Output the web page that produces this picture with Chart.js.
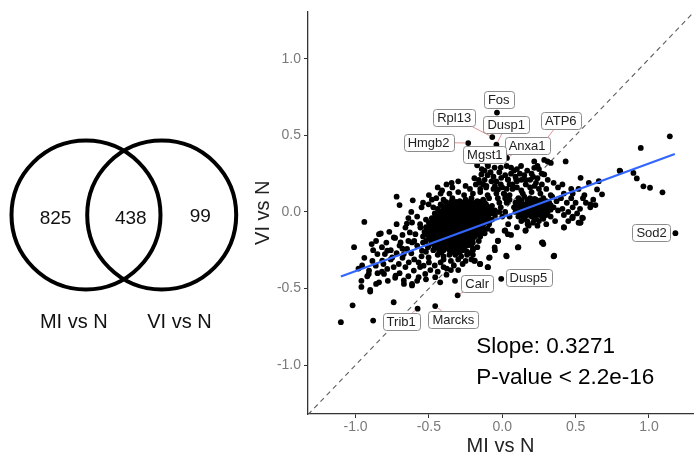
<!DOCTYPE html>
<html><head><meta charset="utf-8">
<script src="https://cdn.jsdelivr.net/npm/chart.js@4.4.1/dist/chart.umd.min.js"></script>
<style>
html,body{margin:0;padding:0;background:#fff;width:697px;height:460px;overflow:hidden;}
#venn{position:absolute;left:0;top:0;}
#scatter{position:absolute;left:240px;top:0;}
</style></head><body>
<canvas id="venn" width="240" height="460"></canvas>
<canvas id="scatter" width="457" height="460"></canvas>
<script>
// ---------- DATA ----------
const vennSets = ['MI vs N', 'VI vs N'];
const vennCounts = [825, 438, 99]; // MI only, shared, VI only

const xTicks = [-1.0, -0.5, 0.0, 0.5, 1.0];
const yTicks = [-1.0, -0.5, 0.0, 0.5, 1.0];
const xTitle = 'MI vs N';
const yTitle = 'VI vs N';

// genes: [MI vs N, VI vs N] (log fold changes)
const genePoints = [
// sparse / outlying
[-1.10,-0.72],[-1.02,-0.61],[-0.88,-0.71],[-0.74,-0.59],[-0.577,-0.632],[-0.457,-0.615],[-0.304,-0.545],[-0.007,-0.437],
[-0.96,-0.45],[-0.90,-0.52],[-0.86,-0.47],[-0.92,-0.42],[-0.955,-0.35],[-1.01,-0.23],[-0.94,-0.065],[-0.72,0.10],[-0.70,0.045],[-0.61,0.076],[-0.55,0.03],[-0.50,0.11],[-0.42,0.12],[-0.345,0.19],
[-0.89,-0.21],[-0.84,-0.145],[-0.77,-0.13],[-0.73,-0.17],[-0.91,-0.405],[-0.81,-0.34],[-0.80,-0.275],[-0.76,-0.25],[-0.73,-0.43],[-0.67,-0.47],[-0.615,-0.48],[-0.65,-0.076],[-0.63,-0.134],[-0.60,-0.19],[-0.56,-0.08],[-0.525,-0.145],[-0.507,-0.23],[-0.68,-0.24],[-0.705,-0.34],[-0.56,-0.36],[-0.525,-0.405],[-0.457,-0.426],[-0.423,-0.46],[-0.378,-0.37],[-0.322,-0.45],[-0.806,-0.405],[-0.85,-0.40],[-0.885,-0.32],
[-0.502,0.05],[-0.828,-0.141],[-0.96,-0.49],[-0.84,-0.46],[-0.90,-0.51],
[-0.739,-0.167],[-0.693,-0.199],[-0.649,-0.242],[-0.615,-0.199],[-0.592,-0.145],[-0.784,-0.253],[-0.75,-0.297],[-0.671,-0.275],[-0.637,-0.329],[-0.603,-0.383],[-0.57,-0.426],[-0.536,-0.351],[-0.502,-0.297],[-0.547,-0.253],[-0.818,-0.318],[-0.851,-0.275],[-0.727,-0.416],[-0.671,-0.448],[-0.615,-0.47],[-0.784,-0.372],[-0.862,-0.351],[-0.908,-0.383],[-0.66,-0.102],[-0.615,-0.069],[-0.558,-0.102],[-0.514,-0.145],[-0.48,-0.188],
[-0.88,-0.25],[-0.86,-0.19],[-0.82,-0.23],[-0.79,-0.20],[-0.76,-0.31],[-0.72,-0.27],[-0.70,-0.22],[-0.68,-0.30],[-0.66,-0.36],[-0.64,-0.19],[-0.62,-0.27],[-0.60,-0.31],[-0.58,-0.22],[-0.57,-0.33],[-0.55,-0.29],[-0.54,-0.20],[-0.52,-0.26],[-0.50,-0.33],[-0.49,-0.38],[-0.46,-0.35],[-0.44,-0.39],[-0.42,-0.33],[-0.40,-0.36],[-0.38,-0.41],[-0.35,-0.38],[-0.33,-0.35],[-0.30,-0.38],[-0.27,-0.34],[-0.74,-0.36],[-0.70,-0.40],[-0.64,-0.42],[-0.58,-0.45],[-0.52,-0.44],[-0.78,-0.45],[-0.82,-0.39],[-0.94,-0.30],[-0.98,-0.37],
[-0.62,0.00],[-0.58,-0.03],[-0.54,0.06],[-0.48,0.08],[-0.44,0.16],[-0.52,-0.05],[-0.64,-0.04],[-0.68,-0.15],[-0.72,-0.08],
// labelled top genes
[-0.036,0.649],[-0.068,0.489],[-0.04,0.44],[-0.232,0.45],[0.032,0.353],[-0.171,0.305],[0.24,0.40],
// upper band
[-0.097,0.30],[-0.052,0.29],[0.128,0.30],[0.218,0.33],[0.286,0.34],[0.309,0.33],[0.331,0.32],[0.432,0.33],
[-0.142,0.245],[0.038,0.212],[-0.007,0.223],[0.095,0.212],[0.218,0.288],[0.286,0.245],
[-0.153,0.19],[-0.108,0.17],[-0.074,0.20],[-0.029,0.147],[0.016,0.115],[0.038,0.071],
[-0.12,0.27],[-0.02,0.26],[0.08,0.27],[0.17,0.27],[0.25,0.28],[0.80,0.27],
[-0.10,0.24],[-0.06,0.23],[0.02,0.24],[0.06,0.25],[0.15,0.24],[0.21,0.23],[0.27,0.25],
[-0.16,0.21],[-0.12,0.21],[-0.04,0.20],[0.04,0.21],[0.10,0.20],[0.19,0.21],[0.24,0.22],[0.31,0.21],
[-0.18,0.18],[-0.13,0.18],[-0.05,0.17],[-0.01,0.18],[0.07,0.18],[0.16,0.18],[0.22,0.17],[0.27,0.18],[0.35,0.19],[0.41,0.18],
[-0.22,0.15],[-0.15,0.15],[-0.11,0.16],[-0.06,0.15],[0.03,0.15],[0.13,0.14],[0.25,0.15],[0.30,0.15],[0.38,0.16],[0.47,0.15],[0.52,0.15],
[-0.04,0.12],[0.01,0.12],[0.05,0.11],[0.42,0.12],[0.48,0.12],[0.56,0.11],
[-0.03,0.09],[0.02,0.09],[0.05,0.08],[0.47,0.09],[0.55,0.09],[0.62,0.08],
[-0.02,0.06],[0.03,0.06],[0.50,0.06],[0.57,0.06],
[-0.01,0.03],[0.48,0.03],[0.53,0.02],[0.60,0.03],
[-0.02,0.00],[0.02,0.00],[0.51,-0.01],
[0.00,-0.03],[0.05,-0.03],[0.48,-0.03],[0.55,-0.04],
[0.45,-0.06],[0.52,-0.07],
[-0.01,0.29],[0.03,0.30],[0.06,0.29],[0.10,0.28],[0.12,0.25],[0.09,0.23],[0.13,0.21],[0.16,0.21],[0.07,0.15],[0.10,0.16],[0.05,0.18],[0.00,0.16],[-0.08,0.26],[-0.14,0.28],[-0.10,0.31],[0.19,0.16],[0.23,0.19],[0.20,0.25],[0.24,0.30],
// lower middle
[0.02,-0.12],[0.06,-0.15],[-0.03,-0.19],[0.10,-0.10],[0.04,-0.08],[-0.05,-0.25],[0.03,-0.29],[-0.09,-0.30],[-0.10,-0.36],[-0.15,-0.34],[-0.19,-0.32],[0.11,-0.23],[0.27,-0.20],[0.28,-0.21],[0.16,-0.12],[0.35,-0.29],[0.42,-0.10],[0.53,-0.07],[0.48,-0.04],
[0.016,-0.123],[0.038,-0.145],[-0.029,-0.188],[0.027,-0.286],[-0.052,-0.232],[-0.086,-0.297],[-0.097,-0.361],[-0.153,-0.34],[-0.187,-0.318],[-0.07,-0.123],
// right side
[1.142,0.494],[0.944,0.418],[0.804,0.266],[0.894,0.255],[0.917,0.219],[0.962,0.167],[1.007,0.158],[1.092,0.128],[1.18,-0.139],[0.534,0.223],[0.59,0.19],[0.658,0.201],[0.646,0.147],[0.68,0.115],[0.601,0.05],[0.635,0.045],[0.545,-0.037],[0.534,-0.069],[0.477,-0.037],[0.421,-0.102],[0.354,-0.286],[0.275,-0.199],[0.106,-0.232],[0.158,-0.123],[0.173,-0.08],
// right cluster
[0.14,0.12],[0.20,0.13],[0.26,0.12],[0.33,0.11],
[0.11,0.09],[0.15,0.10],[0.19,0.09],[0.23,0.08],[0.28,0.09],[0.34,0.10],[0.40,0.09],
[0.09,0.06],[0.12,0.06],[0.15,0.05],[0.18,0.06],[0.21,0.07],[0.24,0.06],[0.28,0.05],[0.32,0.06],[0.37,0.07],[0.44,0.06],
[0.08,0.03],[0.11,0.03],[0.14,0.02],[0.17,0.03],[0.20,0.04],[0.23,0.03],[0.26,0.02],[0.30,0.03],[0.35,0.03],[0.41,0.02],
[0.09,0.00],[0.12,0.00],[0.15,-0.01],[0.18,0.00],[0.21,0.01],[0.24,0.00],[0.27,-0.01],[0.31,0.00],[0.38,0.01],[0.45,0.00],
[0.11,-0.03],[0.14,-0.03],[0.17,-0.02],[0.20,-0.03],[0.23,-0.04],[0.27,-0.03],[0.33,-0.03],[0.42,-0.02],
[0.13,-0.06],[0.17,-0.06],[0.21,-0.07],[0.25,-0.06],[0.36,-0.06],
[0.18,-0.09],[0.24,-0.09],[0.30,-0.08],
[0.13,0.075],[0.17,0.08],[0.22,0.085],[0.26,0.075],[0.30,0.07],
[0.10,0.045],[0.16,0.04],[0.22,0.045],[0.27,0.04],[0.33,0.045],
[0.10,0.015],[0.16,0.015],[0.22,0.02],[0.28,0.015],[0.33,0.015],
[0.13,-0.015],[0.19,-0.015],[0.25,-0.015],[0.30,-0.02],
[0.15,-0.045],[0.22,-0.05],[0.28,-0.045],
[0.13,0.045],[0.19,0.045],[0.245,0.045],[0.30,0.045],
[0.13,0.015],[0.19,0.015],[0.25,0.015],[0.305,0.015],
[0.16,-0.015],[0.22,-0.015],[0.275,-0.015],
// main cluster
[-0.30,0.20],[-0.25,0.17],[-0.34,0.16],[-0.19,0.22],[-0.41,0.14],[-0.45,0.09],[-0.47,0.03],[-0.38,0.18],
[-0.36,0.12],[-0.30,0.13],[-0.26,0.11],[-0.20,0.12],[-0.15,0.13],[-0.10,0.11],
[-0.40,0.08],[-0.34,0.09],[-0.29,0.07],[-0.25,0.08],[-0.21,0.09],[-0.17,0.07],[-0.13,0.08],[-0.09,0.09],
[-0.42,0.05],[-0.37,0.04],[-0.33,0.05],[-0.29,0.04],[-0.26,0.05],[-0.23,0.04],[-0.20,0.05],[-0.17,0.04],[-0.14,0.05],[-0.11,0.05],[-0.07,0.04],
[-0.44,0.02],[-0.40,0.01],[-0.36,0.02],[-0.32,0.02],[-0.29,0.01],[-0.26,0.02],[-0.23,0.01],[-0.20,0.02],[-0.17,0.01],[-0.14,0.02],[-0.11,0.01],[-0.08,0.02],[-0.05,0.01],
[-0.46,-0.01],[-0.42,-0.02],[-0.38,-0.01],[-0.35,-0.01],[-0.32,-0.02],[-0.29,-0.01],[-0.26,-0.02],[-0.23,-0.01],[-0.20,-0.02],[-0.17,-0.01],[-0.14,-0.02],[-0.11,-0.01],[-0.08,-0.01],[-0.05,-0.02],
[-0.48,-0.04],[-0.44,-0.05],[-0.40,-0.04],[-0.37,-0.04],[-0.34,-0.05],[-0.31,-0.04],[-0.28,-0.04],[-0.25,-0.05],[-0.22,-0.04],[-0.19,-0.04],[-0.16,-0.05],[-0.13,-0.04],[-0.10,-0.04],[-0.07,-0.05],
[-0.50,-0.07],[-0.46,-0.08],[-0.42,-0.07],[-0.39,-0.07],[-0.36,-0.08],[-0.33,-0.07],[-0.30,-0.07],[-0.27,-0.08],[-0.24,-0.07],[-0.21,-0.07],[-0.18,-0.08],[-0.15,-0.07],[-0.12,-0.07],[-0.09,-0.08],
[-0.52,-0.10],[-0.48,-0.11],[-0.44,-0.10],[-0.41,-0.10],[-0.38,-0.11],[-0.35,-0.10],[-0.32,-0.10],[-0.29,-0.11],[-0.26,-0.10],[-0.23,-0.10],[-0.20,-0.11],[-0.17,-0.10],[-0.14,-0.10],[-0.10,-0.11],
[-0.53,-0.13],[-0.49,-0.14],[-0.45,-0.13],[-0.42,-0.13],[-0.39,-0.14],[-0.36,-0.13],[-0.33,-0.13],[-0.30,-0.14],[-0.27,-0.13],[-0.24,-0.13],[-0.21,-0.14],[-0.18,-0.13],[-0.15,-0.13],[-0.12,-0.14],
[-0.54,-0.16],[-0.50,-0.17],[-0.46,-0.16],[-0.43,-0.16],[-0.40,-0.17],[-0.37,-0.16],[-0.34,-0.16],[-0.31,-0.17],[-0.28,-0.16],[-0.25,-0.16],[-0.22,-0.17],[-0.19,-0.16],[-0.15,-0.16],
[-0.52,-0.19],[-0.48,-0.20],[-0.44,-0.19],[-0.41,-0.19],[-0.38,-0.20],[-0.35,-0.19],[-0.32,-0.19],[-0.29,-0.20],[-0.26,-0.19],[-0.23,-0.19],[-0.20,-0.20],[-0.16,-0.19],
[-0.50,-0.22],[-0.46,-0.23],[-0.42,-0.22],[-0.39,-0.22],[-0.36,-0.23],[-0.33,-0.22],[-0.30,-0.22],[-0.27,-0.23],[-0.24,-0.22],[-0.21,-0.22],[-0.17,-0.23],
[-0.47,-0.25],[-0.43,-0.26],[-0.40,-0.25],[-0.36,-0.25],[-0.33,-0.26],[-0.30,-0.25],[-0.27,-0.25],[-0.24,-0.26],[-0.20,-0.25],
[-0.44,-0.28],[-0.40,-0.29],[-0.36,-0.28],[-0.32,-0.28],[-0.28,-0.29],[-0.24,-0.28],[-0.20,-0.28],
[-0.40,-0.31],[-0.35,-0.32],[-0.30,-0.31],[-0.25,-0.32],[-0.21,-0.31],
[-0.385,0.065],[-0.315,0.065],[-0.275,0.06],[-0.235,0.065],[-0.185,0.06],[-0.155,0.065],[-0.12,0.06],
[-0.405,0.035],[-0.345,0.035],[-0.305,0.03],[-0.245,0.035],[-0.185,0.03],[-0.125,0.035],[-0.09,0.03],
[-0.43,0.005],[-0.37,0.005],[-0.305,0.005],[-0.245,0.005],[-0.185,0.005],[-0.125,0.005],[-0.065,0.005],
[-0.455,-0.025],[-0.395,-0.025],[-0.335,-0.025],[-0.275,-0.025],[-0.215,-0.025],[-0.155,-0.025],[-0.095,-0.025],
[-0.47,-0.055],[-0.41,-0.055],[-0.35,-0.055],[-0.29,-0.055],[-0.23,-0.055],[-0.17,-0.055],[-0.11,-0.055],
[-0.49,-0.085],[-0.43,-0.085],[-0.37,-0.085],[-0.31,-0.085],[-0.25,-0.085],[-0.19,-0.085],[-0.13,-0.085],
[-0.50,-0.115],[-0.44,-0.115],[-0.38,-0.115],[-0.32,-0.115],[-0.26,-0.115],[-0.20,-0.115],[-0.13,-0.115],
[-0.51,-0.145],[-0.45,-0.145],[-0.39,-0.145],[-0.33,-0.145],[-0.27,-0.145],[-0.21,-0.145],[-0.16,-0.145],
[-0.49,-0.175],[-0.43,-0.175],[-0.37,-0.175],[-0.31,-0.175],[-0.25,-0.175],[-0.20,-0.175],
[-0.47,-0.205],[-0.41,-0.205],[-0.35,-0.205],[-0.29,-0.205],[-0.23,-0.205],
[-0.44,-0.235],[-0.38,-0.235],[-0.32,-0.235],[-0.26,-0.235],[-0.20,-0.24],
[-0.415,-0.265],[-0.35,-0.265],[-0.29,-0.265],[-0.23,-0.27],
[-0.35,0.065],[-0.215,0.065],
[-0.375,0.035],[-0.275,0.035],[-0.215,0.035],[-0.155,0.035],
[-0.40,0.005],[-0.335,0.005],[-0.275,0.005],[-0.215,0.005],[-0.155,0.005],[-0.095,0.005],
[-0.425,-0.025],[-0.365,-0.025],[-0.305,-0.025],[-0.245,-0.025],[-0.185,-0.025],[-0.125,-0.025],
[-0.44,-0.055],[-0.38,-0.055],[-0.32,-0.055],[-0.26,-0.055],[-0.20,-0.055],[-0.14,-0.055],[-0.085,-0.055],
[-0.46,-0.085],[-0.40,-0.085],[-0.34,-0.085],[-0.28,-0.085],[-0.22,-0.085],[-0.16,-0.085],
[-0.47,-0.115],[-0.41,-0.115],[-0.35,-0.115],[-0.29,-0.115],[-0.23,-0.115],[-0.165,-0.115],
[-0.48,-0.145],[-0.42,-0.145],[-0.36,-0.145],[-0.30,-0.145],[-0.24,-0.145],[-0.185,-0.145],
[-0.46,-0.175],[-0.40,-0.175],[-0.34,-0.175],[-0.28,-0.175],[-0.225,-0.175],
[-0.44,-0.205],[-0.38,-0.205],[-0.32,-0.205],[-0.26,-0.205],
[-0.41,-0.235],[-0.35,-0.235],[-0.29,-0.235]
];

// labelled genes: name, point (MI, VI), label centre (MI, VI)
const labelGenes = ['Fos','Rpl13','Dusp1','ATP6','Hmgb2','Anxa1','Mgst1','Sod2','Dusp5','Calr','Marcks','Trib1'];
const labelPointMI = [-0.036,-0.068,-0.04, 0.24,-0.232,0.032,-0.171,1.18,-0.007,-0.304,-0.457,-0.577];
const labelPointVI = [ 0.649, 0.489, 0.44, 0.40, 0.45, 0.353, 0.305,-0.139,-0.437,-0.545,-0.615,-0.632];
const labelBoxMI   = [-0.024,-0.328,0.027,0.399,-0.502,0.169,-0.119,1.018,0.178,-0.171,-0.333,-0.689];
const labelBoxVI   = [ 0.736, 0.619,0.569,0.597, 0.455,0.433, 0.375,-0.132,-0.431,-0.466,-0.701,-0.714];

// linear fit (blue line) endpoints
const fitMI = [-1.10, 1.176];
const fitVI = [-0.422, 0.379];

const statsLines = ['Slope: 0.3271', 'P-value < 2.2e-16'];
const statsMI = -0.178;
const statsVI = [-0.883, -1.084];

// ---------- CHARTS ----------
const FONT = '"Liberation Sans", Arial, Helvetica, sans-serif';

// Venn diagram
const vennText = {
  id: 'vennText',
  afterDatasetsDraw(chart) {
    const {ctx, scales: {x, y}} = chart;
    ctx.save();
    ctx.fillStyle = '#111';
    ctx.textAlign = 'center';
    ctx.textBaseline = 'middle';
    ctx.font = '19px ' + FONT;
    const numPos = [[55.5, 219], [130.8, 219], [200.3, 217]];
    vennCounts.forEach((c, i) => ctx.fillText(String(c), x.getPixelForValue(numPos[i][0]), y.getPixelForValue(numPos[i][1])));
    ctx.font = '20px ' + FONT;
    const labPos = [[73.8, 322], [179.5, 322]];
    vennSets.forEach((s, i) => ctx.fillText(s, x.getPixelForValue(labPos[i][0]), y.getPixelForValue(labPos[i][1])));
    ctx.restore();
  }
};
new Chart(document.getElementById('venn'), {
  type: 'bubble',
  data: { datasets: [{
    data: [{x: 86, y: 215, r: 74.5}, {x: 161.7, y: 215, r: 74.5}],
    backgroundColor: 'rgba(0,0,0,0)', borderColor: '#000', borderWidth: 4,
    hoverBorderWidth: 4, hoverRadius: 0, clip: false
  }]},
  options: {
    responsive: false, animation: false, events: [],
    layout: {padding: 0, autoPadding: false},
    plugins: {legend: {display: false}, tooltip: {enabled: false}},
    scales: {
      x: {type: 'linear', min: 0, max: 240, display: false},
      y: {type: 'linear', min: 0, max: 460, reverse: true, display: false}
    }
  },
  plugins: [vennText]
});

// Scatter plot
const labelPlugin = {
  id: 'geneLabels',
  afterDatasetsDraw(chart) {
    const {ctx, scales: {x, y}} = chart;
    ctx.save();
    ctx.font = '13px ' + FONT;
    const boxes = labelGenes.map((g, i) => {
      const cx = x.getPixelForValue(labelBoxMI[i]), cy = y.getPixelForValue(labelBoxVI[i]);
      const w = ctx.measureText(g).width + 8, h = 17;
      return {g, cx, cy, w, h, px: x.getPixelForValue(labelPointMI[i]), py: y.getPixelForValue(labelPointVI[i])};
    });
    ctx.strokeStyle = '#d97a7a';
    ctx.lineWidth = 0.8;
    boxes.forEach(b => {
      const dx = b.px - b.cx, dy = b.py - b.cy;
      const tx = dx !== 0 ? (b.w / 2) / Math.abs(dx) : Infinity;
      const ty = dy !== 0 ? (b.h / 2) / Math.abs(dy) : Infinity;
      const t = Math.min(tx, ty);
      if (t >= 1) return;
      const sx = b.cx + dx * t, sy = b.cy + dy * t;
      const len = Math.hypot(b.px - sx, b.py - sy);
      if (len < 6) return;
      ctx.beginPath();
      ctx.moveTo(sx, sy);
      ctx.lineTo(b.px - (b.px - sx) / len * 2.5, b.py - (b.py - sy) / len * 2.5);
      ctx.stroke();
    });
    boxes.forEach(b => {
      ctx.beginPath();
      ctx.roundRect(Math.round(b.cx - b.w / 2) + 0.5, Math.round(b.cy - b.h / 2) + 0.5, Math.round(b.w), b.h, 3);
      ctx.fillStyle = '#fff';
      ctx.fill();
      ctx.strokeStyle = '#8c8c8c';
      ctx.lineWidth = 1;
      ctx.stroke();
      ctx.fillStyle = '#222';
      ctx.textAlign = 'center';
      ctx.textBaseline = 'middle';
      ctx.fillText(b.g, b.cx, b.cy + 1);
    });
    ctx.font = '22.5px ' + FONT;
    ctx.fillStyle = '#000';
    ctx.textAlign = 'left';
    ctx.textBaseline = 'middle';
    statsLines.forEach((s, i) => ctx.fillText(s, x.getPixelForValue(statsMI), y.getPixelForValue(statsVI[i])));
    ctx.restore();
  }
};

const XMIN = -1.324, XMAX = 1.30, YMIN = -1.32, YMAX = 1.31;
const fmt = v => Number(v).toFixed(1);

new Chart(document.getElementById('scatter'), {
  type: 'scatter',
  data: { datasets: [
    { type: 'line', data: fitMI.map((v, i) => ({x: v, y: fitVI[i]})), borderColor: '#3366ff', borderWidth: 2.2,
      pointRadius: 0, fill: false, order: 0 },
    { data: genePoints.map(p => ({x: p[0], y: p[1]})), backgroundColor: '#000', borderColor: '#000',
      borderWidth: 0, pointRadius: 2.9, order: 1 },
    { type: 'line', data: [{x: XMIN, y: XMIN}, {x: XMAX, y: XMAX}], borderColor: '#5e5e5e', borderWidth: 1.1,
      borderDash: [5, 4], pointRadius: 0, fill: false, order: 2 }
  ]},
  options: {
    responsive: false, animation: false, events: [],
    layout: {padding: {top: 9, right: 0, left: 0, bottom: 0}},
    plugins: {legend: {display: false}, tooltip: {enabled: false}},
    scales: {
      x: {
        type: 'linear', min: XMIN, max: XMAX,
        afterBuildTicks: s => { s.ticks = xTicks.map(v => ({value: v})); },
        afterFit: s => { s.height = 46; },
        ticks: {callback: fmt, color: '#7a7a7a', font: {family: FONT, size: 14}, padding: 1, maxRotation: 0},
        grid: {drawOnChartArea: false, drawTicks: true, tickLength: 4, color: '#333'},
        border: {display: true, color: '#333', width: 1.3},
        title: {display: true, text: xTitle, color: '#222', font: {family: FONT, size: 20}, padding: {top: 0, bottom: 2}}
      },
      y: {
        type: 'linear', min: YMIN, max: YMAX,
        afterBuildTicks: s => { s.ticks = yTicks.map(v => ({value: v})); },
        afterFit: s => { s.width = 68; },
        ticks: {callback: fmt, color: '#7a7a7a', font: {family: FONT, size: 14}, padding: 3},
        grid: {drawOnChartArea: false, drawTicks: true, tickLength: 4, color: '#333'},
        border: {display: true, color: '#333', width: 1.3},
        title: {display: true, text: yTitle, color: '#222', font: {family: FONT, size: 20}, padding: {top: 11, bottom: 0}}
      }
    }
  },
  plugins: [labelPlugin]
});
</script>
</body></html>
